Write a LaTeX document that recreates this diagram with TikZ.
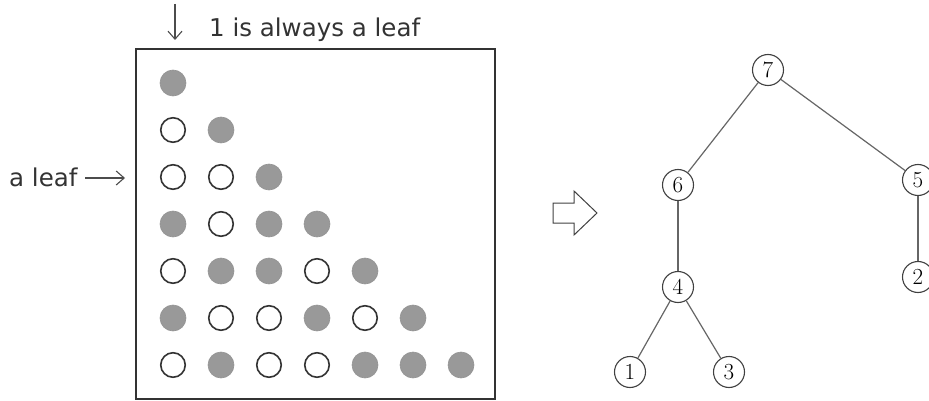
\documentclass[tikz,border=0pt]{standalone}
\usepackage{fontspec}
\setmainfont{DejaVu Sans}
\newfontfamily\digitfont{Latin Modern Roman}
\usetikzlibrary{arrows.meta}
\begin{document}
\begin{tikzpicture}[x=1pt,y=-1pt,
  ink/.style={draw=black!80,line width=1.2pt},
  dotopen/.style={circle,draw=black!80,line width=1.6pt,minimum size=24.5pt,inner sep=0pt},
  dotfull/.style={circle,fill=black!40,draw=black!42,line width=0.6pt,minimum size=26pt,inner sep=0pt},
  treenode/.style={circle,draw=black!75,line width=1.1pt,minimum size=31pt,inner sep=0pt,font=\digitfont\fontsize{23}{23}\selectfont},
  edge/.style={draw=black!60,line width=1.2pt},
  label/.style={font=\fontsize{24.5}{25}\selectfont,text=black!80,inner sep=0pt},
  pointer/.style={draw=black!70,line width=1.1pt,-{Straight Barb[length=8pt,width=14pt]}}
]
\useasboundingbox (0,0) rectangle (929,401);

% frame around the triangular array
\draw[ink] (136,49) rectangle (495,399);

% triangular array of dots: f = filled, o = open
\def\filledmark{f}
\foreach \row/\pattern in {1/{f},2/{o,f},3/{o,o,f},4/{f,o,f,f},5/{o,f,f,o,f},6/{f,o,o,f,o,f},7/{o,f,o,o,f,f,f}}{
  \foreach \kind [count=\col] in \pattern {
    \ifx\kind\filledmark
      \node[dotfull] (d\row\col) at ({173+48*(\col-1)},{83+47*(\row-1)}) {};
    \else
      \node[dotopen] (d\row\col) at ({173+48*(\col-1)},{83+47*(\row-1)}) {};
    \fi
  }
}

% annotations
\coordinate (topstart) at (175,4);
\coordinate (topend) at (175,40);
\draw[pointer] (topstart) -- (topend);
\node[label,anchor=base west] (toptext) at (209,37) {1 is always a leaf};

\node[label,anchor=base west] (lefttext) at (9,186) {a leaf};
\coordinate (leftstart) at (85,178);
\coordinate (leftend) at (125,178);
\draw[pointer] (leftstart) -- (leftend);

% hollow block arrow
\draw[draw=black!75,line width=1pt,line join=miter]
  (553,203) -- (574,203) -- (574,191) -- (597,213) -- (574,235) -- (574,223) -- (553,223) -- cycle;

% resulting tree
\node[treenode] (n7) at (768,70) {7};
\node[treenode] (n6) at (678,185) {6};
\node[treenode] (n5) at (918,180) {5};
\node[treenode] (n2) at (918,277) {2};
\node[treenode] (n4) at (678,287) {4};
\node[treenode] (n1) at (630,372) {1};
\node[treenode] (n3) at (729,372) {3};

\draw[edge] (n7) -- (n6);
\draw[edge] (n7) -- (n5);
\draw[edge] (n6) -- (n4);
\draw[edge] (n5) -- (n2);
\draw[edge] (n4) -- (n1);
\draw[edge] (n4) -- (n3);
\end{tikzpicture}
\end{document}
